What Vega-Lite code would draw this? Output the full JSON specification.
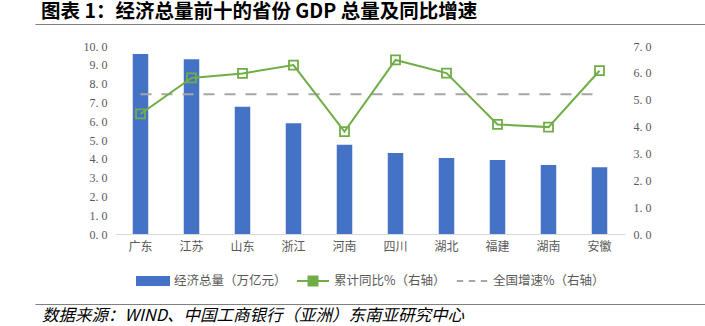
{
  "$schema": "https://vega.github.io/schema/vega-lite/v6.json",
  "background": "white",
  "padding": {"left": 35, "top": 1, "right": 0, "bottom": 5},
  "spacing": 0,
  "center": true,
  "bounds": "flush",
  "resolve": {"legend": {"color": "independent"}},
  "config": {
    "view": {"stroke": null},
    "axisY": {"labelFont": "Liberation Serif", "labelFontSize": 12, "labelColor": "#595959", "labelPadding": 8, "domain": false, "ticks": false, "grid": false, "title": null}
  },
  "datasets": {
    "main": [
      {"province": "广东", "gdp": 9.57, "growth": 4.47, "national": 5.2},
      {"province": "江苏", "gdp": 9.29, "growth": 5.81, "national": 5.2},
      {"province": "山东", "gdp": 6.77, "growth": 5.98, "national": 5.2},
      {"province": "浙江", "gdp": 5.89, "growth": 6.29, "national": 5.2},
      {"province": "河南", "gdp": 4.75, "growth": 3.81, "national": 5.2},
      {"province": "四川", "gdp": 4.31, "growth": 6.48, "national": 5.2},
      {"province": "湖北", "gdp": 4.04, "growth": 5.99, "national": 5.2},
      {"province": "福建", "gdp": 3.94, "growth": 4.08, "national": 5.2},
      {"province": "湖南", "gdp": 3.67, "growth": 3.98, "national": 5.2},
      {"province": "安徽", "gdp": 3.55, "growth": 6.08, "national": 5.2}
    ]
  },
  "vconcat": [
    {
      "width": 670,
      "height": 22,
      "title": {
        "text": "图表 1：经济总量前十的省份 GDP 总量及同比增速",
        "anchor": "start",
        "fontSize": 19.5,
        "fontWeight": "bold",
        "color": "#000000",
        "font": "Noto Sans CJK SC",
        "offset": 2,
        "dx": 6
      },
      "data": {"values": [{"v": 0}]},
      "mark": {"type": "point", "opacity": 0},
      "encoding": {
        "x": {
          "field": "v",
          "type": "quantitative",
          "axis": {"orient": "top", "domain": true, "domainColor": "#808080", "domainWidth": 1, "labels": false, "ticks": false, "grid": false, "title": null}
        }
      }
    },
    {
      "width": 510,
      "height": 188,
      "data": {"name": "main"},
      "layer": [
        {
          "mark": {"type": "bar", "size": 15.5},
          "encoding": {
            "x": {
              "field": "province",
              "type": "nominal",
              "sort": null,
              "axis": {"labelAngle": 0, "title": null, "ticks": false, "domainColor": "#D9D9D9", "domainWidth": 1, "labelFontSize": 12, "labelColor": "#595959", "labelPadding": 7, "labelFont": "Noto Sans CJK SC"}
            },
            "y": {
              "field": "gdp",
              "type": "quantitative",
              "scale": {"domain": [0, 10], "nice": false},
              "axis": {"orient": "left", "values": [0,1,2,3,4,5,6,7,8,9,10], "labelExpr": "replace(format(datum.value,'.1f'),'.','. ')", "labelFont": "Liberation Serif"}
            },
            "color": {
              "datum": "经济总量（万亿元）",
              "type": "nominal",
              "scale": {"domain": ["经济总量（万亿元）", "累计同比%（右轴）", "全国增速%（右轴）"], "range": ["#4472C4", "#70AD47", "#A6A6A6"]},
              "legend": {
                "orient": "none",
                "legendX": 21,
                "legendY": 218,
                "direction": "horizontal",
                "gridAlign": "none",
                "title": null,
                "symbolSize": 1024,
                "symbolStrokeWidth": 2,
                "labelFont": "Noto Sans CJK SC",
                "labelFontSize": 12.5,
                "labelColor": "#595959",
                "labelOffset": 4,
                "columnPadding": 6,
                "encode": {
                  "symbols": {
                    "update": {
                      "shape": {"signal": "datum.value === '经济总量（万亿元）' ? 'M-1,-0.25H1V0.25H-1Z' : (datum.value === '累计同比%（右轴）' ? 'M-1,0H-0.28M0.28,0H1M-0.28,-0.28H0.28V0.28H-0.28Z' : 'M-0.95,0H-0.55M-0.2,0H0.2M0.55,0H0.95')"},
                      "fill": {"signal": "datum.value === '经济总量（万亿元）' ? '#4472C4' : 'transparent'"},
                      "stroke": {"signal": "datum.value === '经济总量（万亿元）' ? 'transparent' : (datum.value === '累计同比%（右轴）' ? '#70AD47' : '#A6A6A6')"},
                      "strokeWidth": {"value": 2},
                      "opacity": {"value": 1},
                      "size": {"value": 1024}
                    }
                  }
                }
              }
            }
          }
        },
        {
          "layer": [
            {
              "mark": {"type": "line", "strokeDash": [11, 10], "strokeWidth": 2},
              "encoding": {
                "x": {"field": "province", "type": "nominal", "sort": null},
                "y": {
                  "field": "national",
                  "type": "quantitative",
                  "scale": {"domain": [0, 7], "nice": false},
                  "axis": {"orient": "right", "values": [0,1,2,3,4,5,6,7], "labelExpr": "replace(format(datum.value,'.1f'),'.','. ')", "labelFont": "Liberation Serif"}
                },
                "color": {"datum": "全国增速%（右轴）", "type": "nominal"}
              }
            },
            {
              "mark": {"type": "line", "strokeWidth": 2, "point": {"shape": "square", "filled": false, "size": 81, "strokeWidth": 1.8}},
              "encoding": {
                "x": {"field": "province", "type": "nominal", "sort": null},
                "y": {
                  "field": "growth",
                  "type": "quantitative",
                  "axis": {"orient": "right", "values": [0,1,2,3,4,5,6,7], "labelExpr": "replace(format(datum.value,'.1f'),'.','. ')", "labelFont": "Liberation Serif"}
                },
                "color": {"datum": "累计同比%（右轴）", "type": "nominal"}
              }
            }
          ]
        }
      ],
      "resolve": {"scale": {"y": "independent"}}
    },
    {
      "width": 670,
      "height": 70,
      "title": {
        "text": "数据来源：WIND、中国工商银行（亚洲）东南亚研究中心",
        "orient": "bottom",
        "anchor": "start",
        "fontSize": 16.5,
        "fontStyle": "italic",
        "fontWeight": "normal",
        "color": "#000000",
        "font": "Noto Sans CJK SC",
        "offset": 4,
        "dx": 7
      },
      "data": {"values": [{"v": 0}]},
      "mark": {"type": "point", "opacity": 0},
      "encoding": {
        "x": {
          "field": "v",
          "type": "quantitative",
          "axis": {"orient": "bottom", "domain": true, "domainColor": "#808080", "domainWidth": 1, "labels": false, "ticks": false, "grid": false, "title": null}
        }
      }
    }
  ]
}
